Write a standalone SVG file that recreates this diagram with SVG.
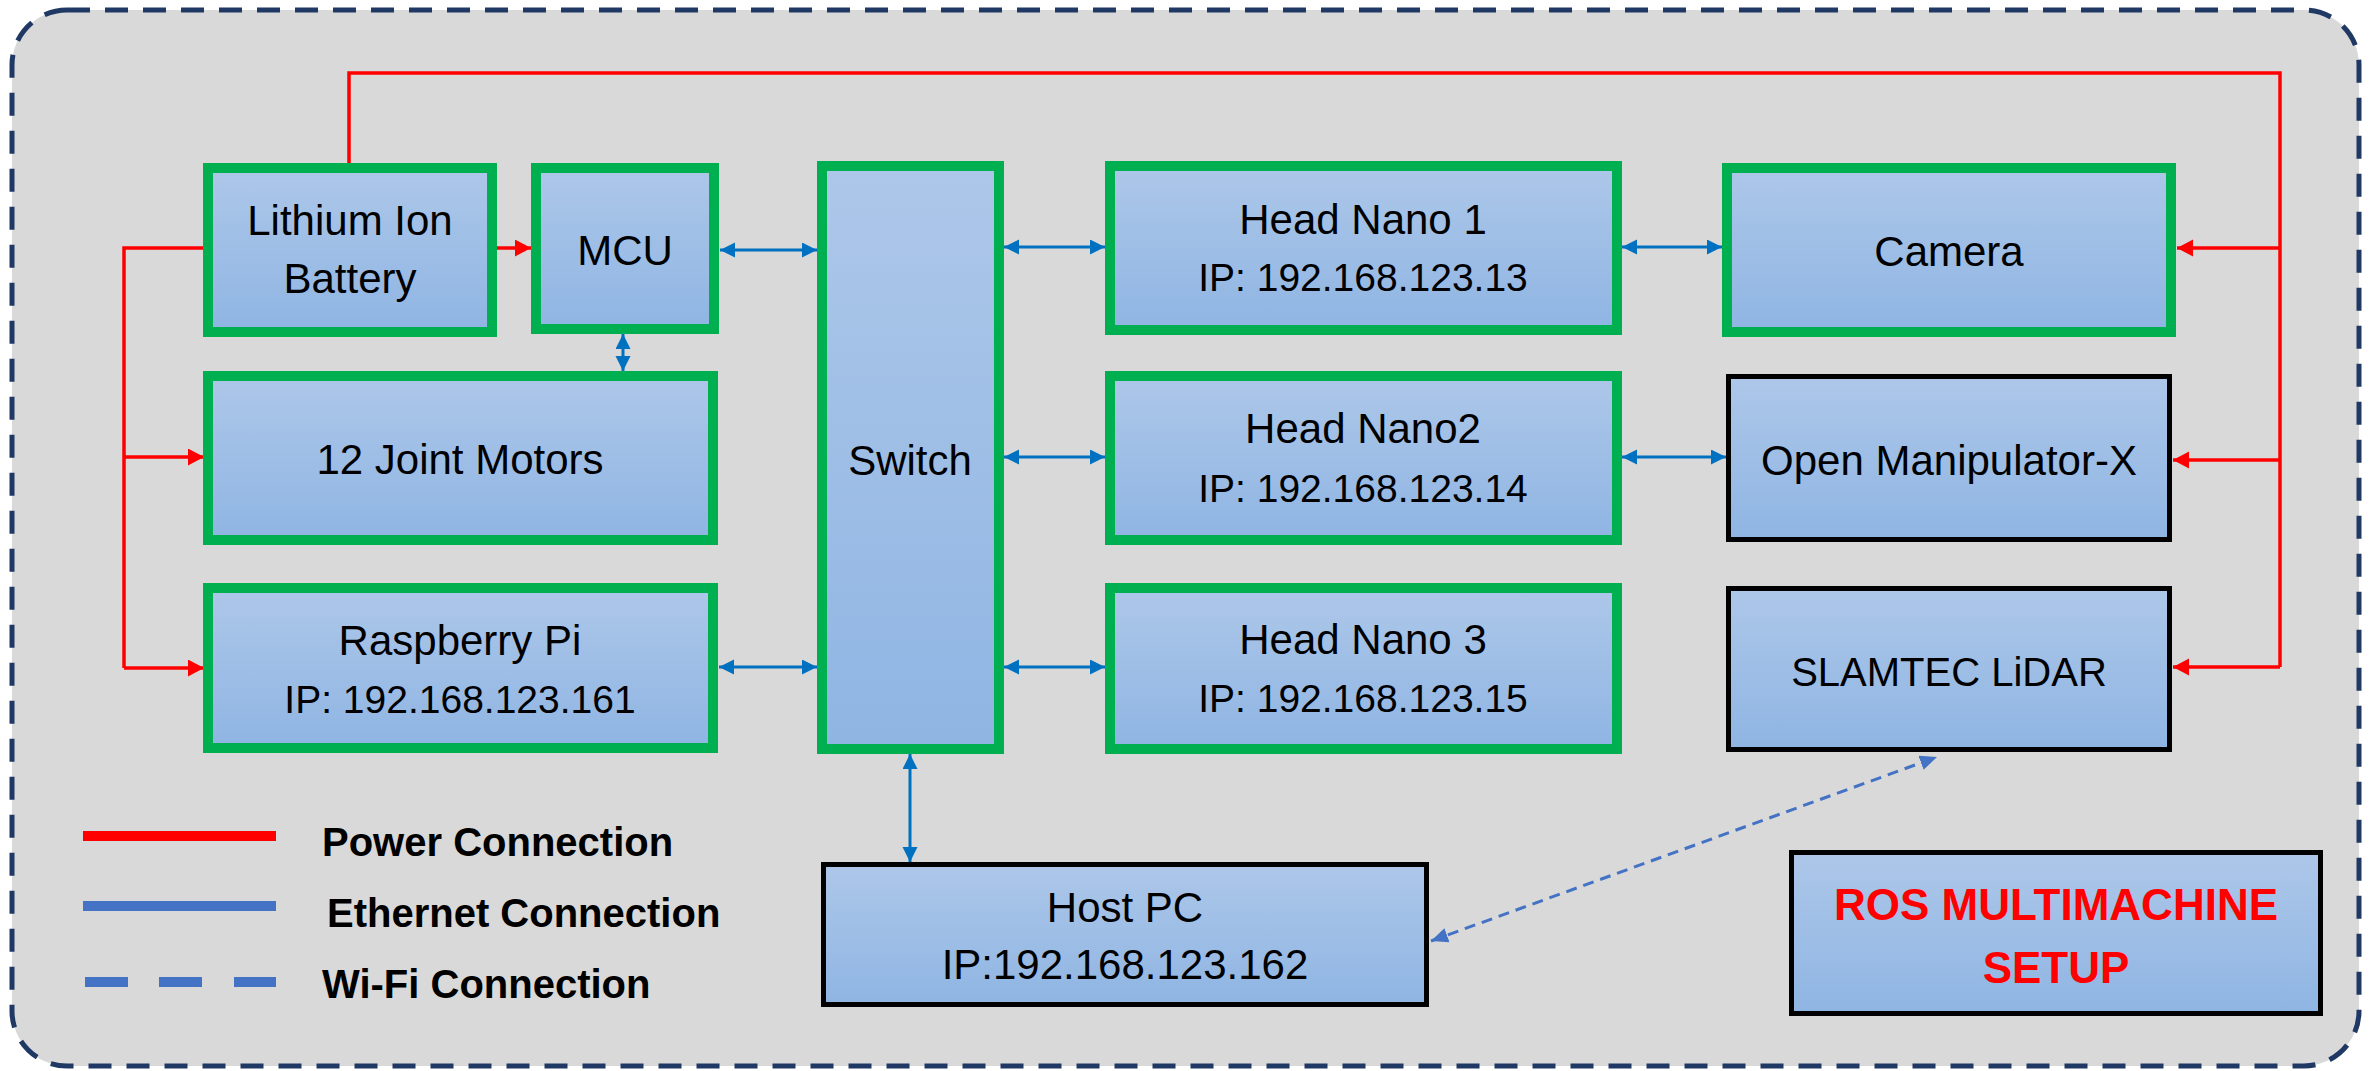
<svg xmlns="http://www.w3.org/2000/svg" width="2377" height="1071" viewBox="0 0 2377 1071">
<style>
.node{fill:url(#fillg)}
.green{stroke:#00b050;stroke-width:10}
.black{stroke:#000;stroke-width:5}
.t{font-family:"Liberation Sans",Arial,sans-serif;font-size:42px;fill:#000;text-anchor:middle}
.ip{font-size:39px}
.lg{font-family:"Liberation Sans",Arial,sans-serif;font-size:40px;font-weight:bold;fill:#000}
.ros{font-family:"Liberation Sans",Arial,sans-serif;font-size:44px;font-weight:bold;fill:#ff0000;text-anchor:middle}
.pw{fill:none;stroke:#ff0000;stroke-width:3.5}
.et{fill:none;stroke:#0070c0;stroke-width:3}
.wf{fill:none;stroke:#4472c4;stroke-width:3;stroke-dasharray:11 7}
</style>
<defs>
<linearGradient id="fillg" x1="0" y1="0" x2="0" y2="1">
<stop offset="0" stop-color="#adc7e9"/>
<stop offset="1" stop-color="#8fb5e3"/>
</linearGradient>
<marker id="ar" markerUnits="userSpaceOnUse" markerWidth="18" markerHeight="18" refX="16" refY="8.5" orient="auto-start-reverse">
<path d="M0,0 L16,8.5 L0,17 z" fill="#ff0000"/>
</marker>
<marker id="ab" markerUnits="userSpaceOnUse" markerWidth="16" markerHeight="16" refX="15" refY="7.5" orient="auto-start-reverse">
<path d="M0,0 L15,7.5 L0,15 z" fill="#0070c0"/>
</marker>
<marker id="aw" markerUnits="userSpaceOnUse" markerWidth="18" markerHeight="16" refX="17" refY="7.5" orient="auto-start-reverse">
<path d="M0,0 L17,7.5 L0,15 z" fill="#4472c4"/>
</marker>
</defs>

<rect x="12" y="10" width="2347" height="1056" rx="55" ry="55" fill="#d9d9d9" stroke="#203864" stroke-width="5" stroke-dasharray="23 15"/>

<g id="connectors">
<path class="pw" d="M349,165 V73 H2280 V667"/>
<path class="pw" d="M2280,248 H2177" marker-end="url(#ar)"/>
<path class="pw" d="M2280,460 H2173" marker-end="url(#ar)"/>
<path class="pw" d="M2280,667 H2173" marker-end="url(#ar)"/>
<path class="pw" d="M205,248 H124 V668"/>
<path class="pw" d="M124,457 H204" marker-end="url(#ar)"/>
<path class="pw" d="M124,668 H204" marker-end="url(#ar)"/>
<path class="pw" d="M495,248 H531" marker-end="url(#ar)"/>
<path class="et" d="M720,250 H817" marker-start="url(#ab)" marker-end="url(#ab)"/>
<path class="et" d="M623,334 V371" marker-start="url(#ab)" marker-end="url(#ab)"/>
<path class="et" d="M719,667 H817" marker-start="url(#ab)" marker-end="url(#ab)"/>
<path class="et" d="M1004,247 H1105" marker-start="url(#ab)" marker-end="url(#ab)"/>
<path class="et" d="M1004,457 H1105" marker-start="url(#ab)" marker-end="url(#ab)"/>
<path class="et" d="M1004,667 H1105" marker-start="url(#ab)" marker-end="url(#ab)"/>
<path class="et" d="M1622,247 H1722" marker-start="url(#ab)" marker-end="url(#ab)"/>
<path class="et" d="M1622,457 H1726" marker-start="url(#ab)" marker-end="url(#ab)"/>
<path class="et" d="M910,754 V862" marker-start="url(#ab)" marker-end="url(#ab)"/>
<path class="wf" d="M1431,941 L1937,757" marker-start="url(#aw)" marker-end="url(#aw)"/>
</g>

<g id="battery"><rect class="node green" x="208" y="168" width="284" height="164"/><text class="t" x="350" y="235">Lithium Ion</text><text class="t" x="350" y="293">Battery</text></g>
<g id="mcu"><rect class="node green" x="536" y="168" width="178" height="161"/><text class="t" x="625" y="265">MCU</text></g>
<g id="motors"><rect class="node green" x="208" y="376" width="505" height="164"/><text class="t" x="460" y="474">12 Joint Motors</text></g>
<g id="rpi"><rect class="node green" x="208" y="588" width="505" height="160"/><text class="t" x="460" y="655">Raspberry Pi</text><text class="t ip" x="460" y="713">IP: 192.168.123.161</text></g>
<g id="switch"><rect class="node green" x="822" y="166" width="177" height="583"/><text class="t" x="910" y="475">Switch</text></g>
<g id="headnano1"><rect class="node green" x="1110" y="166" width="507" height="164"/><text class="t" x="1363" y="234">Head Nano 1</text><text class="t ip" x="1363" y="291">IP: 192.168.123.13</text></g>
<g id="headnano2"><rect class="node green" x="1110" y="376" width="507" height="164"/><text class="t" x="1363" y="443">Head Nano2</text><text class="t ip" x="1363" y="502">IP: 192.168.123.14</text></g>
<g id="headnano3"><rect class="node green" x="1110" y="588" width="507" height="161"/><text class="t" x="1363" y="654">Head Nano 3</text><text class="t ip" x="1363" y="712">IP: 192.168.123.15</text></g>
<g id="camera"><rect class="node green" x="1727" y="168" width="444" height="164"/><text class="t" x="1949" y="266">Camera</text></g>
<g id="openmanip"><rect class="node black" x="1728.5" y="376.5" width="441" height="163"/><text class="t" x="1949" y="475">Open Manipulator-X</text></g>
<g id="lidar"><rect class="node black" x="1728.5" y="588.5" width="441" height="161"/><text class="t" x="1949" y="686" style="font-size:40px">SLAMTEC LiDAR</text></g>
<g id="hostpc"><rect class="node black" x="823.5" y="864.5" width="603" height="140"/><text class="t" x="1125" y="922">Host PC</text><text class="t" x="1125" y="979">IP:192.168.123.162</text></g>
<g id="title"><rect class="node black" x="1791.5" y="852.5" width="529" height="161"/><text class="ros" x="2056" y="920">ROS MULTIMACHINE</text><text class="ros" x="2056" y="983">SETUP</text></g>

<g id="legend">
<rect x="83" y="831" width="193" height="10" fill="#ff0000"/>
<rect x="83" y="901" width="193" height="10" fill="#4472c4"/>
<rect x="85" y="977" width="43" height="10" fill="#4472c4"/>
<rect x="159" y="977" width="43" height="10" fill="#4472c4"/>
<rect x="234" y="977" width="42" height="10" fill="#4472c4"/>
<text class="lg" x="322" y="856">Power Connection</text>
<text class="lg" x="327" y="927">Ethernet Connection</text>
<text class="lg" x="322" y="998">Wi-Fi Connection</text>
</g>
</svg>
